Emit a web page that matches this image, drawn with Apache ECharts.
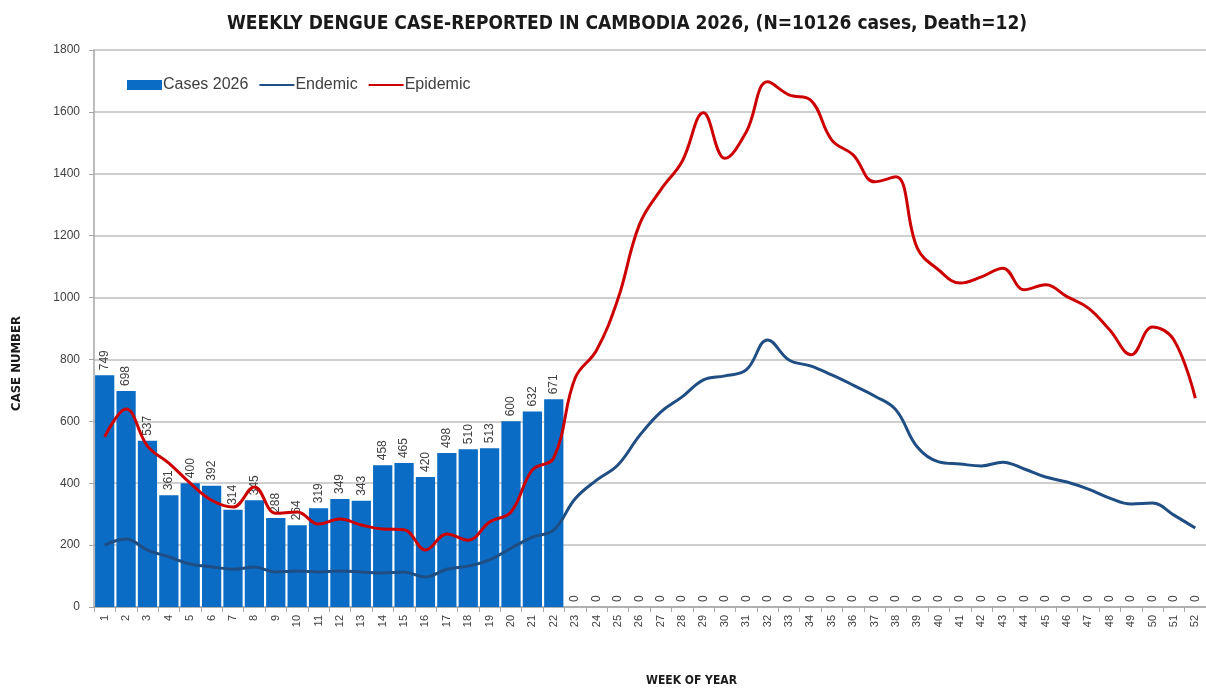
<!DOCTYPE html>
<html>
<head>
<meta charset="utf-8">
<script src="https://cdn.jsdelivr.net/npm/echarts@6/dist/echarts.min.js"></script>
<style>
  html, body { margin: 0; padding: 0; background: #fff; }
  #chart { width: 1206px; height: 691px; }
</style>
</head>
<body>
<div id="chart"></div>
<script>
const weeks = []
for (let w = 1; w <= 52; w++) weeks.push(String(w))

const cases2026 = [749, 698, 537, 361, 400, 392, 314, 345, 288, 264, 319, 349, 343, 458, 465, 420, 498, 510, 513, 600, 632, 671,
  0, 0, 0, 0, 0, 0, 0, 0, 0, 0, 0, 0, 0, 0, 0, 0, 0, 0, 0, 0, 0, 0, 0, 0, 0, 0, 0, 0, 0, 0]

const endemic = [200, 220, 184, 162, 139, 130, 122, 129, 113, 116, 113, 116, 113, 110, 113, 97, 122, 132, 152, 190, 226, 249,
  350, 410, 459, 553, 630, 679, 734, 747, 766, 863, 798, 779, 750, 717, 682, 637, 517, 469, 462, 456, 468, 446, 420, 404,
  381, 352, 333, 336, 297, 255]

const epidemic = [550, 640, 520, 465, 400, 345, 323, 388, 303, 307, 268, 284, 265, 252, 250, 184, 236, 216, 275, 307, 443, 482,
  740, 830, 995, 1235, 1348, 1440, 1597, 1450, 1535, 1697, 1655, 1639, 1509, 1461, 1374, 1390, 1160, 1089, 1047, 1067,
  1095, 1025, 1041, 1003, 966, 895, 815, 905, 863, 675]

const font = "'Liberation Sans', Arial, sans-serif"
const boldFont = "'Liberation Sans Narrow', 'DejaVu Sans Condensed', sans-serif"
const chart = echarts.init(document.getElementById('chart'))

const option = {
  animation: false,
  title: {
    text: 'WEEKLY DENGUE CASE-REPORTED IN CAMBODIA 2026, (N=10126 cases, Death=12)',
    left: 622,
    top: 10,
    textAlign: 'center',
    textStyle: { fontFamily: boldFont, fontWeight: 'bold', fontSize: 19, color: '#1a1a1a' },
  },
  legend: {
    left: 122,
    top: 72,
    itemWidth: 35,
    itemHeight: 10,
    itemGap: 10,
    textStyle: { fontFamily: font, fontSize: 16, color: '#404040', padding: [0, 0, 0, -4] },
    data: [
      { name: 'Cases 2026', icon: 'rect' },
      { name: 'Endemic', itemStyle: { opacity: 0 } },
      { name: 'Epidemic', itemStyle: { opacity: 0 } },
    ],
  },
  grid: { left: 94, right: 0, top: 50, bottom: 84 },
  xAxis: {
    type: 'category',
    data: weeks,
    axisLine: { lineStyle: { color: '#a6a6a6', width: 1.5 } },
    axisTick: { show: true, interval: 0, length: 5, lineStyle: { color: '#a6a6a6' } },
    axisLabel: { interval: 0, rotate: 90, margin: 8, fontFamily: font, fontSize: 11, color: '#404040' },
  },
  yAxis: {
    type: 'value',
    min: 0,
    max: 1800,
    interval: 200,
    axisLine: { show: true, lineStyle: { color: '#a6a6a6', width: 1.5 } },
    axisTick: { show: true, length: 5, lineStyle: { color: '#a6a6a6' } },
    axisLabel: { margin: 14, fontFamily: font, fontSize: 12, color: '#404040', formatter: v => String(v) },
    splitLine: { lineStyle: { color: '#bfbfbf', width: 1.5 } },
  },
  graphic: [
    {
      type: 'text',
      left: 10,
      top: 316,
      rotation: Math.PI / 2,
      style: { text: 'CASE NUMBER', fontFamily: boldFont, fontWeight: 'bold', fontSize: 13, fill: '#1a1a1a' },
    },
    {
      type: 'text',
      left: 646,
      top: 675,
      style: { text: 'WEEK OF YEAR', fontFamily: boldFont, fontWeight: 'bold', fontSize: 12, fill: '#1a1a1a' },
    },
  ],
  series: [
    {
      name: 'Cases 2026',
      type: 'bar',
      data: cases2026,
      barCategoryGap: '10%',
      itemStyle: { color: '#0a6cc4' },
      label: {
        show: true,
        position: 'top',
        rotate: 90,
        align: 'left',
        verticalAlign: 'middle',
        distance: 5,
        fontFamily: font,
        fontSize: 12,
        color: '#404040',
      },
    },
    {
      name: 'Endemic',
      type: 'line',
      data: endemic,
      smooth: 0.4,
      symbol: 'none',
      lineStyle: { color: '#1f4e84', width: 3 },
      itemStyle: { color: '#1f4e84' },
    },
    {
      name: 'Epidemic',
      type: 'line',
      data: epidemic,
      smooth: 0.4,
      symbol: 'none',
      lineStyle: { color: '#cc0000', width: 3 },
      itemStyle: { color: '#cc0000' },
    },
  ],
}

chart.setOption(option)
</script>
</body>
</html>
